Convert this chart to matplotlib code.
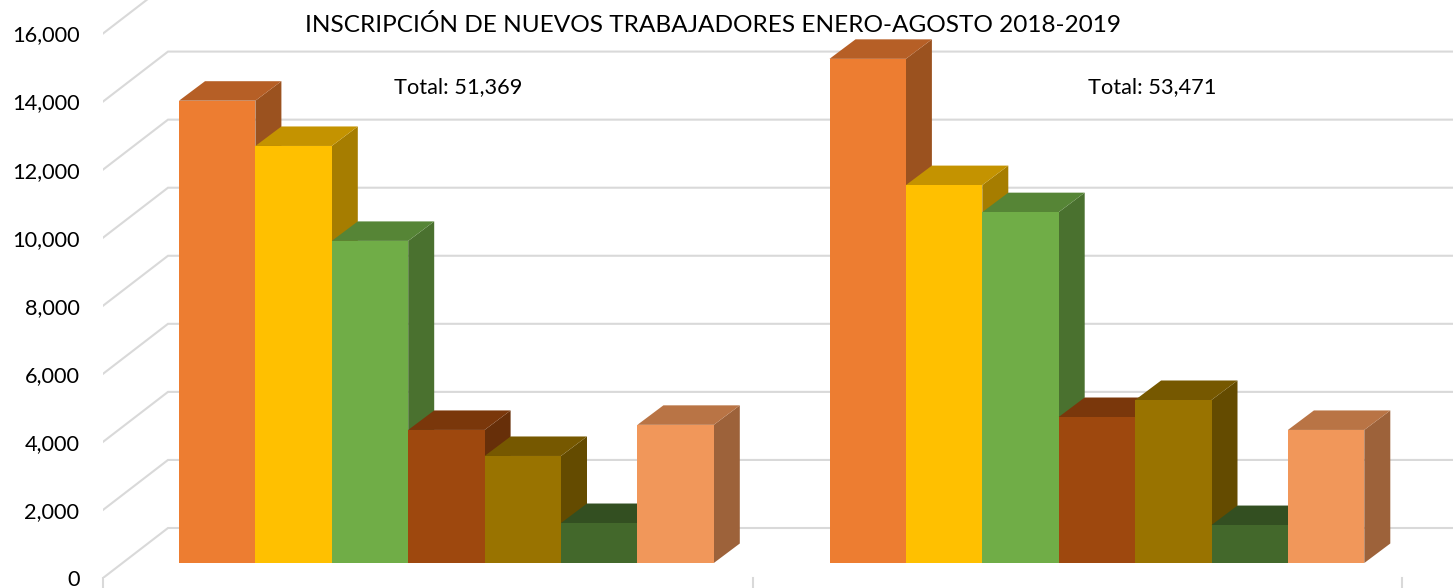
import matplotlib.pyplot as plt
from matplotlib.patches import Polygon

plt.rcParams['font.family'] = ['Lato', 'DejaVu Sans']

valores_2018 = [13585, 12255, 9465, 3910, 3145, 1175, 4060]
valores_2019 = [14815, 11105, 10310, 4290, 4790, 1115, 3910]
y_ticks = [0, 2000, 4000, 6000, 8000, 10000, 12000, 14000, 16000]
titulo = 'INSCRIPCIÓN DE NUEVOS TRABAJADORES ENERO-AGOSTO 2018-2019'
totales = ['Total: 51,369', 'Total: 53,471']

# front, top and side colour of each series
frente = ['#ED7D31', '#FFC000', '#70AD47', '#9E480E', '#997300', '#43682B', '#F1975A']
arriba = ['#B65F26', '#C49300', '#568536', '#7A370B', '#765800', '#334F21', '#B97445']
lado = ['#9B521F', '#A67D00', '#4A712F', '#672F09', '#644B00', '#2C441C', '#9D623A']

PX_X = 76.4           # pixels per bar width
PX_Y = 68.06 / 2000   # pixels per value unit
GROUP_STEP = 650.5 / PX_X
BAR_DX, BAR_DY = 26 / PX_X, 19.5 / PX_Y    # depth of a bar
WALL_DX, WALL_DY = 65 / PX_X, 50 / PX_Y    # depth of the floor
BASE_Y = 15 / PX_Y    # bars stand a bit behind the front edge of the floor

fig = plt.figure(figsize=(14.53, 5.88), dpi=100)
ax = fig.add_axes([103 / 1453, 10 / 588, 1350 / 1453, 578 / 588])
ax.set_xlim(-76 / PX_X, (1453 - 179) / PX_X)
ax.set_ylim(0, 578 / PX_Y)
x_front = -76 / PX_X
x_end = (1453 - 179) / PX_X

# gridlines, diagonal on the side wall then flat on the back wall
for t in y_ticks:
    ax.plot([x_front, x_front + WALL_DX, x_end], [t, t + WALL_DY, t + WALL_DY],
            color='#D9D9D9', lw=1.5, solid_joinstyle='miter', zorder=1, clip_on=True)

# small category ticks under the floor
for k in range(3):
    xt = x_front + k * 649.5 / PX_X
    ax.plot([xt, xt], [0, -12 / PX_Y], color='#D9D9D9', lw=1.5, clip_on=False, zorder=1)


def draw_bar(x, v, i, z):
    y0 = BASE_Y
    y1 = BASE_Y + v
    ax.add_patch(Polygon([(x + 1, y0), (x + 1 + BAR_DX, y0 + BAR_DY),
                          (x + 1 + BAR_DX, y1 + BAR_DY), (x + 1, y1)],
                         fc=lado[i], ec='none', zorder=z))
    ax.add_patch(Polygon([(x, y1), (x + 1, y1), (x + 1 + BAR_DX, y1 + BAR_DY),
                          (x + BAR_DX, y1 + BAR_DY)],
                         fc=arriba[i], ec='none', zorder=z))
    ax.add_patch(Polygon([(x, y0), (x + 1, y0), (x + 1, y1), (x, y1)],
                         fc=frente[i], ec='none', zorder=z))


for g, valores in enumerate([valores_2018, valores_2019]):
    for i, v in enumerate(valores):
        draw_bar(g * GROUP_STEP + i, v, i, 2 + 0.1 * i)

ax.set_yticks(y_ticks)
ax.set_yticklabels([f'{t:,}' for t in y_ticks], fontsize=15.7, color='#000000')
ax.tick_params(axis='y', length=0, pad=17)
ax.set_xticks([])
for s in ax.spines.values():
    s.set_visible(False)
ax.patch.set_visible(False)

fig.text(713 / 1453, 1 - 25 / 588, titulo, fontsize=17.6, ha='center', va='center', color='#000000')
fig.text(458 / 1453, 1 - 87 / 588, totales[0], fontsize=15.7, ha='center', va='center', color='#000000')
fig.text(1152 / 1453, 1 - 87 / 588, totales[1], fontsize=15.7, ha='center', va='center', color='#000000')

fig.savefig('out.png', dpi=100)
